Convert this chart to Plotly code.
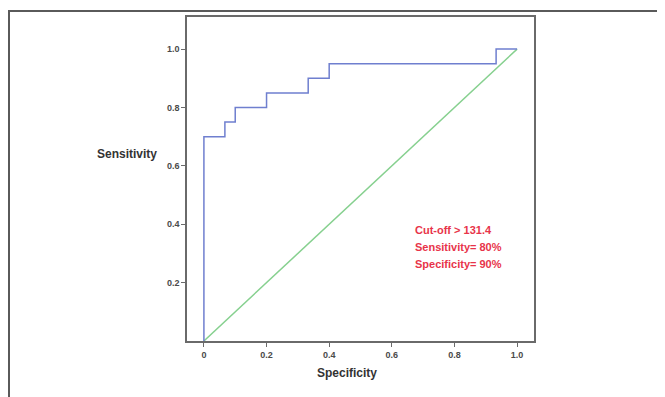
import plotly.graph_objects as go

# ROC curve step points (1 - specificity on x as plotted, sensitivity on y)
roc_x = [0, 0.067, 0.1, 0.2, 0.333, 0.4, 0.933, 1.0]
roc_y = [0, 0.70, 0.75, 0.80, 0.85, 0.90, 0.95, 1.0]
ref_x = [0, 1]
ref_y = [0, 1]
x_ticks = [0, 0.2, 0.4, 0.6, 0.8, 1.0]
x_ticklabels = ["0", "0.2", "0.4", "0.6", "0.8", "1.0"]
y_ticks = [0.2, 0.4, 0.6, 0.8, 1.0]
y_ticklabels = ["0.2", "0.4", "0.6", "0.8", "1.0"]
note_lines = ["Cut-off > 131.4", "Sensitivity= 80%", "Specificity= 90%"]

fig = go.Figure()
fig.add_trace(go.Scatter(x=ref_x, y=ref_y, mode="lines",
                         line=dict(color="#86d08f", width=1.5), hoverinfo="skip"))
fig.add_trace(go.Scatter(x=roc_x, y=roc_y, mode="lines", line_shape="vh",
                         line=dict(color="#6f7fcf", width=1.5), hoverinfo="skip"))

axis_common = dict(showgrid=False, zeroline=False, showline=True, mirror=True,
                   linecolor="#6a6a6a", linewidth=1.5, ticks="outside", ticklen=4,
                   tickcolor="#6a6a6a", tickwidth=1,
                   tickfont=dict(family="Liberation Sans", size=9, color="#4a4a4a", weight="bold"))

fig.update_xaxes(range=[-0.054, 1.054], tickvals=x_ticks, ticktext=x_ticklabels, **axis_common)
fig.update_yaxes(range=[0, 1.11], tickvals=y_ticks, ticktext=y_ticklabels, **axis_common)

# page offset (body margin) is 8px; plot area target: x 187..534, y 15..341
OFF = 8
L, T, W, H = 187 - OFF, 15 - OFF, 347, 326
PX0, PY1 = 187, 341

annos = [
    dict(text="Sensitivity", x=(127 - PX0) / W, y=(PY1 - 153) / H, xref="paper", yref="paper",
         showarrow=False, xanchor="center", yanchor="middle",
         font=dict(family="Liberation Sans", size=12, color="#333333", weight="bold")),
    dict(text="Specificity", x=(347 - PX0) / W, y=(PY1 - 373) / H, xref="paper", yref="paper",
         showarrow=False, xanchor="center", yanchor="middle",
         font=dict(family="Liberation Sans", size=12, color="#333333", weight="bold")),
]
note_y = [229, 246.5, 263.5]
for line, py in zip(note_lines, note_y):
    annos.append(dict(text=line, x=(413 - PX0) / W, y=(PY1 - py) / H,
                      xref="paper", yref="paper", showarrow=False,
                      xanchor="left", yanchor="middle",
                      font=dict(family="Liberation Sans", size=11, color="#e8344a", weight="bold")))

fig.update_layout(
    width=665, height=397,
    margin=dict(l=L, r=665 - L - W, t=T, b=397 - T - H),
    paper_bgcolor="white", plot_bgcolor="white",
    showlegend=False,
    annotations=annos,
    shapes=[dict(type="rect", xref="paper", yref="paper",
                 x0=(9 - PX0) / W, x1=1.6, y0=-0.3, y1=(PY1 - 9) / H,
                 line=dict(color="#5a5a5a", width=2), fillcolor="rgba(0,0,0,0)", layer="below")],
)

fig.write_html("out.html")
